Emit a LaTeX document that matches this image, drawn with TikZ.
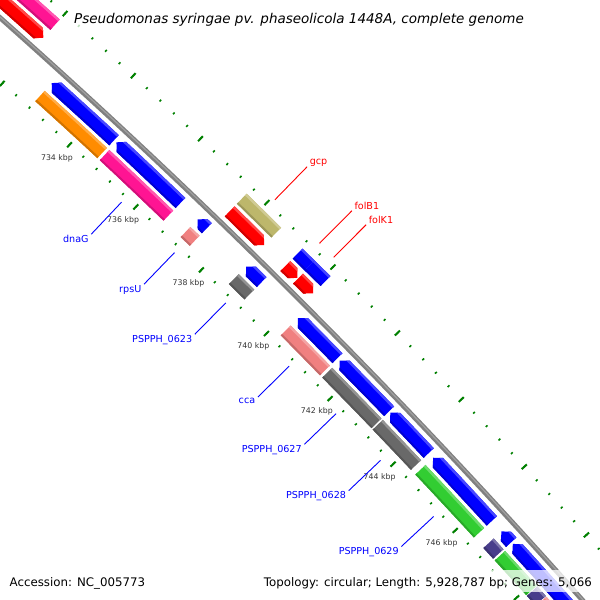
\documentclass[tikz,border=0pt]{standalone}
\usepackage{fontspec}
\setmainfont{DejaVu Sans}
\usepackage{tikz}

\definecolor{genered}{RGB}{255,0,0}
\definecolor{geneblue}{RGB}{0,0,255}
\definecolor{genekhaki}{RGB}{189,183,107}
\definecolor{genepink}{RGB}{255,20,147}
\definecolor{geneorange}{RGB}{255,140,0}
\definecolor{genesalmon}{RGB}{240,128,128}
\definecolor{genegrey}{RGB}{105,105,105}
\definecolor{genegreen}{RGB}{50,205,50}
\definecolor{geneslate}{RGB}{72,61,139}
\definecolor{tickgreen}{RGB}{0,128,0}
\definecolor{rulergrey}{RGB}{51,51,51}
\definecolor{backbonegrey}{RGB}{128,128,128}

% angle of a genome position (kbp) and radius of the backbone
\newcommand{\kpos}[1]{(45 - (#1 - 740)*0.3826)}
\newcommand{\rbb}{6859}

% outlines: #1 start, #2 end (kbp), #3 lane offset from the backbone
\newcommand{\boxpath}[3]{({\kpos{#1}} : {\rbb+(#3)+7}) arc [radius = {\rbb+(#3)+7}, start angle = {\kpos{#1}}, delta angle = {-(#2-#1)*0.3826}]
  -- ({\kpos{#2}} : {\rbb+(#3)-7}) arc [radius = {\rbb+(#3)-7}, start angle = {\kpos{#2}}, delta angle = {(#2-#1)*0.3826}] -- cycle}
\newcommand{\fwdpath}[3]{({\kpos{#1}} : {\rbb+(#3)+7}) arc [radius = {\rbb+(#3)+7}, start angle = {\kpos{#1}}, delta angle = {-(#2-#1-0.15)*0.3826}]
  -- ({\kpos{#2}} : {\rbb+(#3)}) -- ({\kpos{#2-0.15}} : {\rbb+(#3)-7})
  arc [radius = {\rbb+(#3)-7}, start angle = {\kpos{#2-0.15}}, delta angle = {(#2-#1-0.15)*0.3826}] -- cycle}
\newcommand{\revpath}[3]{({\kpos{#1}} : {\rbb+(#3)}) -- ({\kpos{#1+0.15}} : {\rbb+(#3)+7})
  arc [radius = {\rbb+(#3)+7}, start angle = {\kpos{#1+0.15}}, delta angle = {-(#2-#1-0.15)*0.3826}]
  -- ({\kpos{#2}} : {\rbb+(#3)-7}) arc [radius = {\rbb+(#3)-7}, start angle = {\kpos{#2}}, delta angle = {(#2-#1-0.15)*0.3826}] -- cycle}
% ring between two offsets, a bit longer than the feature
\newcommand{\ringpath}[4]{({\kpos{#1}+1} : {\rbb+(#4)}) arc [radius = {\rbb+(#4)}, start angle = {\kpos{#1}+1}, delta angle = {-(#2-#1)*0.3826-2}]
  -- ({\kpos{#2}-1} : {\rbb+(#3)}) arc [radius = {\rbb+(#3)}, start angle = {\kpos{#2}-1}, delta angle = {(#2-#1)*0.3826+2}] -- cycle}

% shaded feature: #1 outline, #2 start, #3 end, #4 lane, #5 colour
\newcommand{\gene}[5]{%
  \fill[#5] #1{#2}{#3}{#4};
  \begin{scope}
    \clip #1{#2}{#3}{#4};
    \fill[#5!72!white] \ringpath{#2}{#3}{(#4)+4.6}{(#4)+9};
    \fill[#5!82!black] \ringpath{#2}{#3}{(#4)-9}{(#4)-5};
  \end{scope}}

\begin{document}
\begin{tikzpicture}[x=1pt, y=1pt,
    minortick/.style={color=tickgreen, line width=1.6pt},
    majortick/.style={color=tickgreen, line width=2pt},
    kbplabel/.style={font=\fontsize{7.8}{9}\selectfont, text=rulergrey, inner sep=0pt},
    genelabel/.style={font=\fontsize{9.6}{11}\selectfont, inner xsep=2.5pt, inner ysep=1pt},
    labelline/.style={line width=0.9pt},
    veil/.style={fill=white, fill opacity=0.75}]

  \useasboundingbox (0,0) rectangle (600,600);
  \begin{scope}
  \clip (0,0) rectangle (600,600);
  \begin{scope}[shift={(-4550,-4550)}]

    % ruler ticks, outside and inside
    \foreach \i in {0,...,60} {
      \draw[minortick] ({\kpos{728+0.4*\i}} : {\rbb+45.3}) -- ({\kpos{728+0.4*\i}} : {\rbb+47.7});
      \draw[minortick] ({\kpos{728+0.4*\i}} : {\rbb-48.2}) -- ({\kpos{728+0.4*\i}} : {\rbb-45.8});
    }
    \foreach \k in {728,730,...,752} {
      \draw[majortick] ({\kpos{\k}} : {\rbb+43}) -- ({\kpos{\k}} : {\rbb+50});
      \draw[majortick] ({\kpos{\k}} : {\rbb-51}) -- ({\kpos{\k}} : {\rbb-44});
    }
    \foreach \k in {734,736,...,746}
      \node[kbplabel] (tick\k) at ({\kpos{\k}} : {\rbb-66}) {\k\ kbp};

    % backbone
    \draw[backbonegrey, line width=5pt] ({\kpos{727}} : \rbb)
      arc [radius = \rbb, start angle = {\kpos{727}}, delta angle = {-26*0.3826}];
    \draw[white!25!backbonegrey, line width=1.2pt] ({\kpos{727}} : {\rbb+0.6})
      arc [radius = {\rbb+0.6}, start angle = {\kpos{727}}, delta angle = {-26*0.3826}];

    % outer lanes
    \gene{\fwdpath}{729}{732.0}{14}{genered}
    \gene{\boxpath}{729}{732.0}{31.5}{genepink}
    \gene{\fwdpath}{737.55}{738.6}{14}{genered}
    \gene{\boxpath}{737.55}{738.6}{31.5}{genekhaki}
    \gene{\fwdpath}{739.25}{739.62}{14}{genered}
    \gene{\fwdpath}{739.64}{740.1}{14}{genered}
    \gene{\boxpath}{739.25}{739.62}{31.5}{geneblue}
    \gene{\boxpath}{739.62}{740.1}{31.5}{geneblue}

    % inner lanes
    \gene{\revpath}{732.8}{734.65}{-14}{geneblue}
    \gene{\boxpath}{732.8}{734.65}{-31.5}{geneorange}
    \gene{\revpath}{734.72}{736.65}{-14}{geneblue}
    \gene{\boxpath}{734.72}{736.65}{-31.5}{genepink}
    \gene{\revpath}{737.17}{737.45}{-14}{geneblue}
    \gene{\boxpath}{737.17}{737.45}{-31.5}{genesalmon}
    \gene{\revpath}{738.65}{739.13}{-14}{geneblue}
    \gene{\boxpath}{738.65}{739.13}{-31.5}{genegrey}
    \gene{\revpath}{740.25}{741.48}{-14}{geneblue}
    \gene{\boxpath}{740.25}{741.48}{-31.5}{genesalmon}
    \gene{\revpath}{741.55}{743.1}{-14}{geneblue}
    \gene{\boxpath}{741.55}{743.1}{-31.5}{genegrey}
    \gene{\revpath}{743.14}{744.36}{-14}{geneblue}
    \gene{\boxpath}{743.14}{744.36}{-31.5}{genegrey}
    \gene{\revpath}{744.5}{746.39}{-14}{geneblue}
    \gene{\boxpath}{744.5}{746.39}{-31.5}{genegreen}
    \gene{\revpath}{746.7}{747.02}{-14}{geneblue}
    \gene{\boxpath}{746.7}{747.02}{-31.5}{geneslate}
    \gene{\revpath}{747.07}{750}{-14}{geneblue}
    \gene{\boxpath}{747.07}{748.1}{-31.5}{genegreen}
    \gene{\boxpath}{748.12}{748.4}{-31.5}{geneslate}
    \gene{\boxpath}{748.42}{750}{-31.5}{genesalmon}

    % gene labels
    \foreach \k/\nm/\txt in {738.08/gcp/gcp, 739.43/folb/folB1, 739.86/folk/folK1} {
      \coordinate (\nm-foot) at ({\kpos{\k}} : {\rbb+54});
      \node[genelabel, text=genered, anchor=south west, inner ysep=0.5pt] (\nm) at ({\kpos{\k}} : {\rbb+100}) {\txt};
      \draw[labelline, genered] (\nm-foot) -- (\nm.south west);
    }
    \foreach \k/\nm/\txt in {735.7/dnag/dnaG, 737.31/rpsu/rpsU, 738.89/p0623/PSPPH\_0623,
        740.86/cca/cca, 742.33/p0627/PSPPH\_0627, 743.75/p0628/PSPPH\_0628, 745.45/p0629/PSPPH\_0629} {
      \coordinate (\nm-foot) at ({\kpos{\k}} : {\rbb-54});
      \node[genelabel, text=geneblue, anchor=north east] (\nm) at ({\kpos{\k}} : {\rbb-98}) {\txt};
      \draw[labelline, geneblue] (\nm-foot) -- (\nm.north east);
    }
  \end{scope}
  \end{scope}

  % title and footer
  \fill[veil] (70,569) rectangle (530,596);
  \fill[veil] (257,8) rectangle (595,30);
  \node[anchor=base west, inner sep=0pt, font=\fontsize{13.5}{15}\selectfont\itshape] (title) at (74,576.7)
    {Pseudomonas syringae pv. phaseolicola 1448A, complete genome};
  \node[anchor=base west, inner sep=0pt, font=\fontsize{11.8}{14}\selectfont] (accession) at (9.5,13.3)
    {Accession: NC\_005773};
  \node[anchor=base east, inner sep=0pt, font=\fontsize{11.8}{14}\selectfont] (stats) at (592,13.3)
    {Topology: circular; Length: 5,928,787 bp; Genes: 5,066};
\end{tikzpicture}
\end{document}
